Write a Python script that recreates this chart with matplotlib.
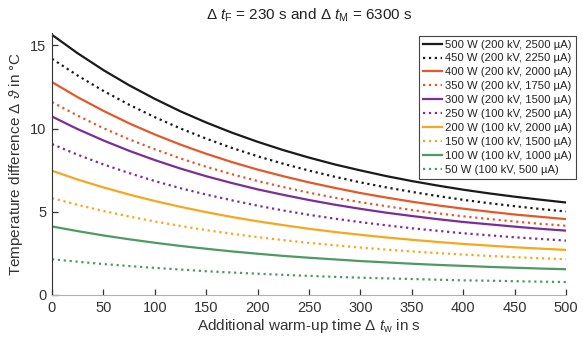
import matplotlib
matplotlib.use("Agg")
import matplotlib.pyplot as plt

plt.rcParams['font.family'] = ['Liberation Sans', 'DejaVu Sans']
plt.rcParams['mathtext.fontset'] = 'custom'
plt.rcParams['mathtext.rm'] = 'Liberation Sans'
plt.rcParams['mathtext.it'] = 'Liberation Sans:italic'
plt.rcParams['mathtext.fallback'] = 'cm'

t = [0, 25, 50, 75, 100, 125, 150, 175, 200, 225, 250,
     275, 300, 325, 350, 375, 400, 425, 450, 475, 500]

p500 = [15.64, 14.53, 13.52, 12.61, 11.79, 11.04, 10.37, 9.76, 9.21, 8.71, 8.26,
        7.85, 7.49, 7.15, 6.85, 6.58, 6.33, 6.11, 5.91, 5.73, 5.56]
p450 = [14.20, 13.19, 12.27, 11.44, 10.69, 10.01, 9.40, 8.84, 8.34, 7.89, 7.48,
        7.11, 6.77, 6.47, 6.20, 5.95, 5.72, 5.52, 5.34, 5.17, 5.02]
p400 = [12.80, 11.89, 11.07, 10.32, 9.65, 9.04, 8.49, 7.99, 7.54, 7.14, 6.77,
        6.44, 6.13, 5.86, 5.61, 5.39, 5.19, 5.01, 4.84, 4.70, 4.56]
p350 = [11.60, 10.78, 10.03, 9.36, 8.76, 8.21, 7.71, 7.26, 6.85, 6.49, 6.15,
        5.85, 5.58, 5.34, 5.11, 4.91, 4.73, 4.57, 4.42, 4.28, 4.16]
p300 = [10.73, 9.97, 9.29, 8.67, 8.11, 7.60, 7.14, 6.73, 6.35, 6.02, 5.71,
        5.43, 5.18, 4.95, 4.75, 4.56, 4.39, 4.25, 4.11, 3.98, 3.87]
p250 = [9.07, 8.43, 7.85, 7.33, 6.85, 6.42, 6.04, 5.69, 5.37, 5.08, 4.82,
        4.59, 4.38, 4.19, 4.01, 3.86, 3.71, 3.59, 3.47, 3.37, 3.27]
p200 = [7.47, 6.94, 6.47, 6.04, 5.65, 5.30, 4.98, 4.69, 4.43, 4.20, 3.98,
        3.79, 3.62, 3.46, 3.32, 3.19, 3.07, 2.97, 2.87, 2.79, 2.71]
p150 = [5.82, 5.42, 5.05, 4.72, 4.42, 4.15, 3.90, 3.68, 3.48, 3.30, 3.13,
        2.99, 2.85, 2.73, 2.62, 2.52, 2.43, 2.35, 2.28, 2.21, 2.15]
p100 = [4.12, 3.84, 3.58, 3.35, 3.14, 2.95, 2.78, 2.62, 2.48, 2.35, 2.24,
        2.14, 2.04, 1.96, 1.88, 1.81, 1.75, 1.69, 1.64, 1.59, 1.55]
p50 = [2.15, 2.00, 1.86, 1.74, 1.63, 1.53, 1.43, 1.35, 1.28, 1.21, 1.15,
       1.09, 1.04, 1.00, 0.96, 0.92, 0.88, 0.86, 0.83, 0.80, 0.78]

labels = ['500 W (200 kV, 2500 µA)', '450 W (200 kV, 2250 µA)',
          '400 W (200 kV, 2000 µA)', '350 W (200 kV, 1750 µA)',
          '300 W (200 kV, 1500 µA)', '250 W (100 kV, 2500 µA)',
          '200 W (100 kV, 2000 µA)', '150 W (100 kV, 1500 µA)',
          '100 W (100 kV, 1000 µA)', '50 W (100 kV, 500 µA)']
series = [p500, p450, p400, p350, p300, p250, p200, p150, p100, p50]
colors = ['#1a1a1a', '#1a1a1a', '#E4582A', '#E4582A', '#7B2E96', '#7B2E96',
          '#F5A81E', '#F5A81E', '#4E9A62', '#4E9A62']
styles = ['-', ':', '-', ':', '-', ':', '-', ':', '-', ':']

fig = plt.figure(figsize=(5.83, 3.40), dpi=100)
ax = fig.add_axes([52/583, 45/340, 514/583, 262/340])

for y, lab, c, ls in zip(series, labels, colors, styles):
    ax.plot(t, y, color=c, linestyle=ls, linewidth=1.6, label=lab)

ax.set_xlim(0, 500)
ax.set_ylim(0, 15.75)
ax.set_xticks(range(0, 501, 50))
ax.set_yticks([0, 5, 10, 15])
ax.spines['top'].set_visible(False)
ax.spines['right'].set_visible(False)
ax.spines['left'].set_color('#333333')
ax.spines['bottom'].set_color('#b0b0b0')
ax.tick_params(direction='in', length=4, width=0.9, color='#333333',
               labelsize=10.5, labelcolor='#333333', pad=4)

ax.set_xlabel(r'Additional warm-up time $\Delta$ $t_\mathrm{w}$ in s',
              fontsize=11, color='#333333', labelpad=2)
ax.set_ylabel(r'Temperature difference $\Delta$ $\vartheta$ in °C',
              fontsize=11, color='#333333', labelpad=4)
ax.set_title(r'$\Delta$ $t_\mathrm{F}$ = 230 s and $\Delta$ $t_\mathrm{M}$ = 6300 s',
             fontsize=11, color='#222222', pad=10)

leg = ax.legend(loc='upper right', bbox_to_anchor=(1.019, 0.99), borderaxespad=0,
                fontsize=8.1, handlelength=1.7, handletextpad=0.25,
                labelspacing=0.35, borderpad=0.35, fancybox=False,
                framealpha=1, edgecolor='#444444')
leg.get_frame().set_linewidth(0.8)
for txt in leg.get_texts():
    txt.set_color('#222222')

fig.savefig('out.png', dpi=100)
